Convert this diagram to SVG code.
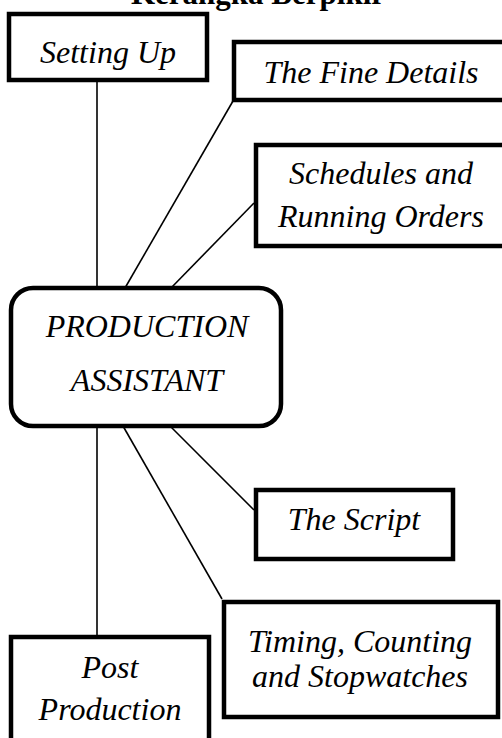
<svg xmlns="http://www.w3.org/2000/svg" width="502" height="738" viewBox="0 0 502 738">
<style>
.box{fill:#fff;stroke:#000;stroke-width:4.5}
.t{font-family:"Liberation Serif","Times New Roman",serif;font-style:italic;font-weight:normal;font-size:32px;fill:#000;text-anchor:middle}
.title{font-family:"Liberation Serif","Times New Roman",serif;font-weight:bold;font-size:31px;fill:#000;text-anchor:middle}
.c line{stroke:#000;stroke-width:1.6}
</style>
<rect width="502" height="738" fill="#fff"/>
<text class="title" x="258" y="4">Kerangka Berpikir</text>
<g id="connectors" class="c">
<line x1="97" y1="82" x2="97" y2="288"/>
<line x1="233" y1="101" x2="125" y2="288"/>
<line x1="254" y1="203" x2="171" y2="288"/>
<line x1="254" y1="510" x2="170" y2="426"/>
<line x1="222" y1="599" x2="123" y2="426"/>
<line x1="97" y1="426" x2="97" y2="637"/>
</g>
<g id="setting-up">
<rect class="box" x="9" y="14" width="198" height="66"/>
<text class="t" x="108" y="63">Setting Up</text>
</g>
<g id="fine-details">
<rect class="box" x="234" y="42" width="276" height="58"/>
<text class="t" x="371" y="83">The Fine Details</text>
</g>
<g id="schedules">
<rect class="box" x="256" y="145" width="256" height="101"/>
<text class="t" x="381" y="184">Schedules and</text>
<text class="t" x="381" y="227">Running Orders</text>
</g>
<g id="production-assistant">
<rect class="box" x="11" y="288" width="270" height="138" rx="22" ry="22"/>
<text class="t" x="147" y="337">PRODUCTION</text>
<text class="t" x="147" y="391">ASSISTANT</text>
</g>
<g id="the-script">
<rect class="box" x="256" y="490" width="197" height="69"/>
<text class="t" x="354" y="530">The Script</text>
</g>
<g id="timing">
<rect class="box" x="224" y="602" width="274" height="115"/>
<text class="t" x="360" y="652">Timing, Counting</text>
<text class="t" x="360" y="687">and Stopwatches</text>
</g>
<g id="post-production">
<rect class="box" x="11" y="637" width="198" height="120"/>
<text class="t" x="110" y="678">Post</text>
<text class="t" x="110" y="720">Production</text>
</g>
</svg>
